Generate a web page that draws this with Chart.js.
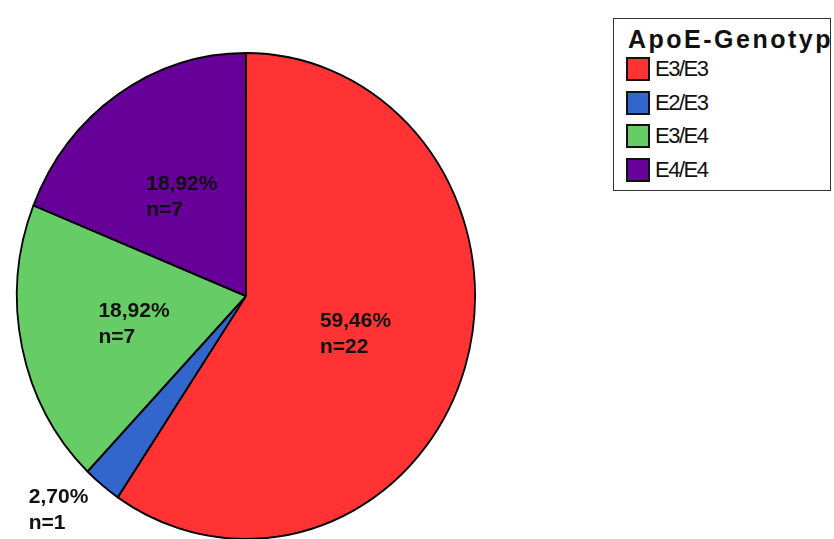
<!DOCTYPE html>
<html>
<head>
<meta charset="utf-8">
<script src="https://cdn.jsdelivr.net/npm/chart.js@4/dist/chart.umd.min.js"></script>
<style>
  html, body { margin: 0; padding: 0; background: #fff; }
  #wrap { position: relative; width: 834px; height: 539px; overflow: hidden; }
  #c { position: absolute; left: 0; top: 0; }
  #legend { position: absolute; left: 613px; top: 18px; width: 216px; height: 171px;
            border: 1.5px solid #333; overflow: hidden; background: #fff;
            font-family: "Liberation Sans", Arial, sans-serif; }
  #legend .title { position: absolute; left: 14px; top: 6px; font-weight: bold; font-size: 25px;
                   letter-spacing: 2.5px; white-space: nowrap; color: #111; }
  #legend .item { position: absolute; left: 12px; height: 24px; }
  #legend .sw { position: absolute; left: 0; top: 0; width: 20px; height: 20px; border: 2px solid #111; }
  #legend .lbl { position: absolute; left: 29px; top: -1px; font-size: 22px; letter-spacing: -1.5px;
                 white-space: nowrap; color: #111; line-height: 26px; }
</style>
</head>
<body>
<div id="wrap">
  <canvas id="c" width="834" height="539"></canvas>
  <div id="legend"></div>
</div>
<script>
const legendTitle = "ApoE-Genotyp";
const categories = ["E3/E3", "E2/E3", "E3/E4", "E4/E4"];
const counts = [22, 1, 7, 7];
const colors = ["#FF3333", "#3366CC", "#66CC66", "#660099"];

const total = counts.reduce((a, b) => a + b, 0);
const fmtPct = v => (v / total * 100).toFixed(2).replace('.', ',') + '%';

// HTML legend
const lg = document.getElementById('legend');
const t = document.createElement('div');
t.className = 'title'; t.textContent = legendTitle; lg.appendChild(t);
categories.forEach((c, i) => {
  const it = document.createElement('div');
  it.className = 'item';
  it.style.top = (38 + i * 33.5) + 'px';
  const sw = document.createElement('div'); sw.className = 'sw'; sw.style.background = colors[i];
  const lb = document.createElement('div'); lb.className = 'lbl'; lb.textContent = c;
  it.appendChild(sw); it.appendChild(lb); lg.appendChild(it);
});

const SY = 244 / 230; // slight vertical stretch of the pie

const stretchPlugin = {
  id: 'stretch',
  beforeDatasetsDraw(chart) {
    const a = chart.getDatasetMeta(0).data[0];
    const ctx = chart.ctx;
    ctx.save();
    ctx.translate(a.x, a.y);
    ctx.scale(1, SY);
    ctx.translate(-a.x, -a.y);
  },
  afterDatasetsDraw(chart) {
    chart.ctx.restore();
  }
};

const labelPlugin = {
  id: 'sliceLabels',
  afterDraw(chart) {
    const ctx = chart.ctx;
    const meta = chart.getDatasetMeta(0);
    ctx.save();
    ctx.font = 'bold 21px "Liberation Sans", Arial, sans-serif';
    ctx.fillStyle = '#111';
    ctx.textBaseline = 'alphabetic';
    ctx.textAlign = 'left';
    meta.data.forEach((arc, i) => {
      const v = counts[i];
      const frac = v / total;
      const mid = (arc.startAngle + arc.endAngle) / 2;
      const lines = [fmtPct(v), 'n=' + v];
      const w = Math.max(...lines.map(l => ctx.measureText(l).width));
      if (frac < 0.05) {
        // outside label, anchored at its top-right corner near the rim
        const px = arc.x + Math.cos(mid) * arc.outerRadius * 1.04;
        const py = arc.y + Math.sin(mid) * arc.outerRadius * 1.04 * SY;
        const x0 = px - 8 - w;
        ctx.fillText(lines[0], x0, py + 10);
        ctx.fillText(lines[1], x0, py + 36);
      } else {
        const cx = arc.x + Math.cos(mid) * arc.outerRadius * 0.5;
        const cy = arc.y + Math.sin(mid) * arc.outerRadius * 0.5 * SY;
        const x0 = cx - w / 2;
        ctx.fillText(lines[0], x0, cy - 5);
        ctx.fillText(lines[1], x0, cy + 21);
      }
    });
    ctx.restore();
  }
};

new Chart(document.getElementById('c'), {
  type: 'pie',
  data: {
    labels: categories,
    datasets: [{
      data: counts,
      backgroundColor: colors,
      borderColor: '#000',
      borderWidth: 1.8
    }]
  },
  options: {
    responsive: false,
    animation: false,
    layout: { padding: { left: 16, right: 358, top: 66, bottom: 13 } },
    plugins: {
      legend: { display: false },
      tooltip: { enabled: false },
      title: { display: false }
    }
  },
  plugins: [stretchPlugin, labelPlugin]
});
</script>
</body>
</html>
